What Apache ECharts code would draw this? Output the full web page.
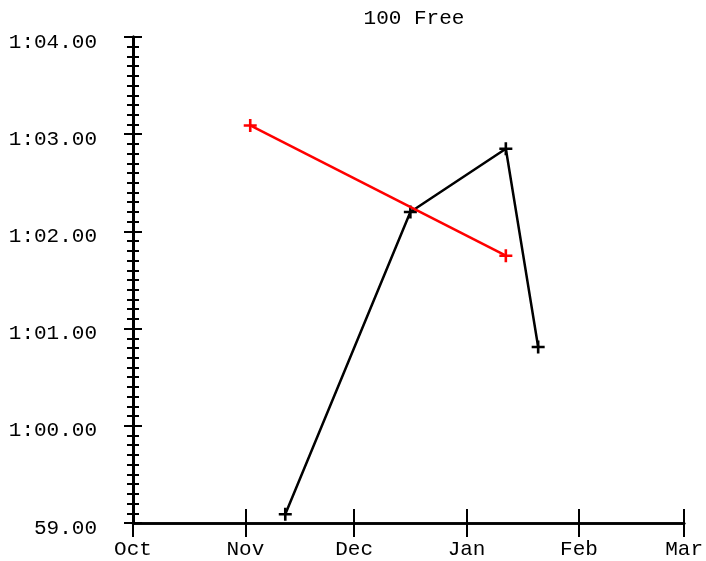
<!DOCTYPE html>
<html>
<head>
<meta charset="utf-8">
<script src="https://cdn.jsdelivr.net/npm/echarts@6/dist/echarts.min.js"></script>
<style>html,body{margin:0;padding:0;background:#fff}#c{width:706px;height:561px}</style>
</head>
<body>
<div id="c"></div>
<script>
const title = '100 Free';
const monthTicks = ['2023-10-01','2023-11-01','2023-12-01','2024-01-01','2024-02-01','2024-03-01'];
const monthLabels = ['Oct','Nov','Dec','Jan','Feb','Mar'];
const blackDates = ['2023-11-12','2023-12-16 12:00','2024-01-11 20:00','2024-01-20 18:00'];
const blackTimes = [59.09, 62.20, 62.85, 60.81];
const redDates = ['2023-11-02 08:00','2024-01-11 20:00'];
const redTimes = [63.09, 61.75];
const yMin = 59, yMax = 64;

function ts(s){
  const [d,t] = s.split(' ');
  const [y,m,dd] = d.split('-').map(Number);
  let h = 0;
  if (t) h = Number(t.split(':')[0]);
  return Date.UTC(y, m-1, dd, h);
}
const tickTs = monthTicks.map(ts);
function fmtY(v){
  if (v < 60) return v.toFixed(2);
  const m = Math.floor(v/60);
  const s = v - m*60;
  return m + ':' + s.toFixed(2).padStart(5,'0');
}
function fmtX(v){
  let best = 0, bd = Infinity;
  tickTs.forEach((t,i) => { const d = Math.abs(t - v); if (d < bd) { bd = d; best = i; } });
  return monthLabels[best];
}
const FONT = 'Liberation Mono';
const plus = 'path://M5.2,0h2.6v5.2h5.2v2.6h-5.2v5.2h-2.6v-5.2h-5.2v-2.6h5.2z';

const chart = echarts.init(document.getElementById('c'));
const xBase = {
  type: 'value', min: tickTs[0], max: tickTs[tickTs.length-1], position: 'bottom',
  splitLine: {show:false},
  axisLine: {show:true, onZero:false, lineStyle:{color:'#000', width:2.6}},
};
const yBase = {
  type: 'value', min: yMin, max: yMax, interval: 1, position: 'left',
  splitLine: {show:false},
  axisLine: {show:true, onZero:false, lineStyle:{color:'#000', width:3}},
  minorTick: {show:true, splitNumber:10, length:6, lineStyle:{color:'#000', width:2}},
};
chart.setOption({
  animation: false,
  title: {
    text: title, left: 409, top: 3, textAlign: 'center',
    textStyle: {fontFamily: FONT, fontSize: 21, fontWeight: 'normal', color: '#000'}
  },
  grid: {left: 133, right: 21, top: 37, bottom: 38},
  xAxis: [
    Object.assign({}, xBase, {
      axisTick: {show:true, inside:false, length:14, customValues: tickTs, lineStyle:{color:'#000', width:2}},
      axisLabel: {show:true, customValues: tickTs, formatter: fmtX, margin: 16, color:'#000',
        fontFamily: FONT, fontSize: 21}
    }),
    Object.assign({}, xBase, {
      axisTick: {show:true, inside:true, length:14, customValues: tickTs, lineStyle:{color:'#000', width:2}},
      axisLabel: {show:false}
    })
  ],
  yAxis: [
    Object.assign({}, yBase, {
      axisTick: {show:true, inside:false, length:9, lineStyle:{color:'#000', width:2}},
      axisLabel: {show:true, formatter: fmtY, margin: 36, color:'#000', fontFamily: FONT, fontSize: 21,
        verticalAlign: 'top', lineHeight: 10}
    }),
    Object.assign({}, yBase, {
      axisTick: {show:true, inside:true, length:9, lineStyle:{color:'#000', width:2}},
      axisLabel: {show:false}
    })
  ],
  series: [
    {
      type: 'line', xAxisIndex: 0, yAxisIndex: 0,
      data: blackDates.map((d,i) => [ts(d), blackTimes[i]]),
      symbol: plus, symbolSize: 13, showAllSymbol: true,
      lineStyle: {color:'#000', width:2.5},
      itemStyle: {color:'#000', borderWidth:0},
      z: 3
    },
    {
      type: 'line', xAxisIndex: 0, yAxisIndex: 0,
      data: redDates.map((d,i) => [ts(d), redTimes[i]]),
      symbol: plus, symbolSize: 13, showAllSymbol: true,
      lineStyle: {color:'#f00', width:2.5},
      itemStyle: {color:'#f00', borderWidth:0},
      z: 4
    }
  ]
});
</script>
</body>
</html>
